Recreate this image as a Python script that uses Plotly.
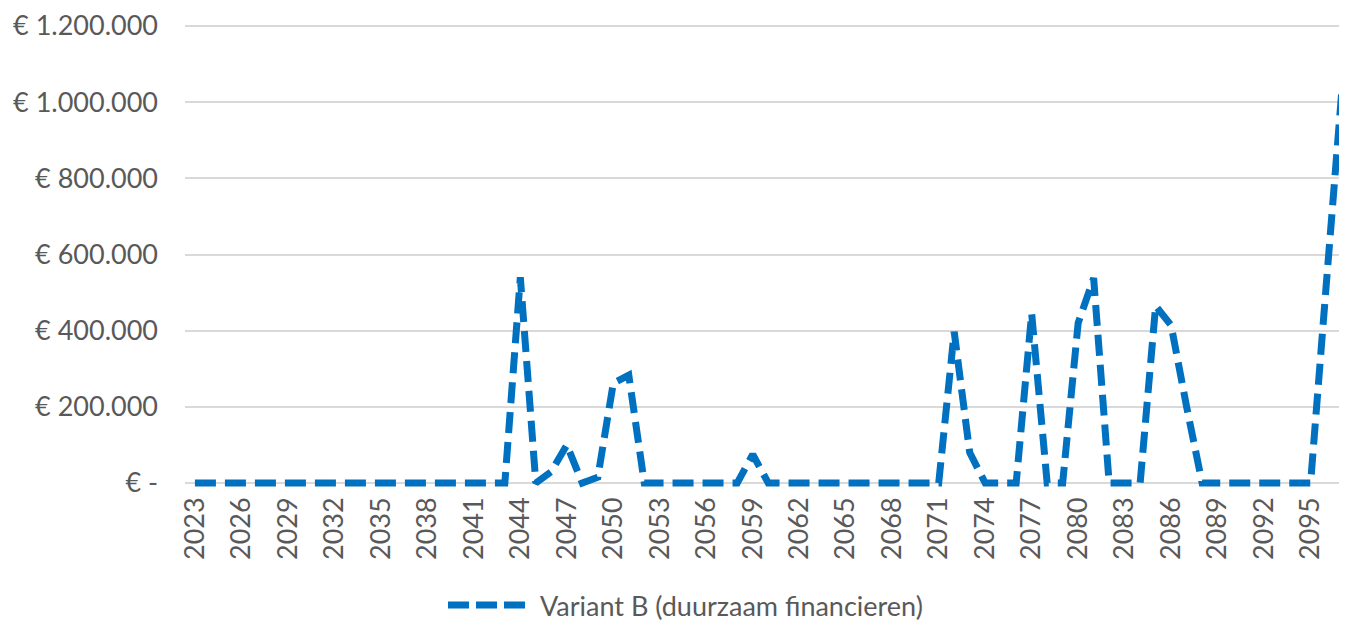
import plotly.graph_objects as go

years = list(range(2023, 2098))
values_by_year = {
    2044: 540000, 2046: 30000, 2047: 100000, 2049: 15000, 2050: 262000, 2051: 283000,
    2059: 75000, 2072: 397000, 2073: 80000, 2077: 445000, 2080: 420000, 2081: 538000,
    2085: 465000, 2086: 414000, 2087: 200000, 2096: 515000, 2097: 1022000,
}
values = [values_by_year.get(y, 0) for y in years]

x_tick_years = list(range(2023, 2096, 3))
y_tick_vals = [0, 200000, 400000, 600000, 800000, 1000000, 1200000]
y_tick_text = ["€ -", "€ 200.000", "€ 400.000", "€ 600.000", "€ 800.000", "€ 1.000.000", "€ 1.200.000"]
series_name = "Variant B (duurzaam financieren)"

BLUE = "#0070C0"
TXT = "#595959"
FONT = "Lato"
FS = 27

fig = go.Figure()
fig.add_trace(go.Scatter(
    x=years, y=values, mode="lines", name=series_name,
    line=dict(color=BLUE, width=7, dash="21px,9px"),
    showlegend=False, hoverinfo="x+y",
))

# page has an 8px body margin; figure coordinates = page coordinates - 8
OFF = 8
W, H = 1347 - OFF, 621 - OFF
ml, mr, mt = 185 - OFF, 0, 18 - OFF
plot_bottom = 491 - OFF
mb = H - plot_bottom
pw, ph = W - ml - mr, H - mt - mb

fig.update_layout(
    width=W, height=H,
    margin=dict(l=ml, r=mr, t=mt, b=mb, pad=0),
    paper_bgcolor="white", plot_bgcolor="white",
    font=dict(family=FONT, color=TXT, size=FS),
    xaxis=dict(
        range=[2022.36, 2097.35], tickmode="array", tickvals=x_tick_years,
        ticktext=[str(y) for y in x_tick_years], tickangle=-90,
        showgrid=False, zeroline=False, showline=False, ticks="",
        tickfont=dict(family=FONT, color=TXT, size=FS),
    ),
    yaxis=dict(
        range=[-21000, 1221000], tickmode="array", tickvals=y_tick_vals,
        ticktext=y_tick_text, showgrid=True, gridcolor="#D9D9D9", gridwidth=1.5,
        zeroline=False, showline=False, ticks="", ticklabelstandoff=26,
        tickfont=dict(family=FONT, color=TXT, size=FS),
    ),
)

def px_x(p):
    return (p - OFF - ml) / pw

def px_y(p):
    return (plot_bottom - (p - OFF)) / ph

ly = 605
fig.add_shape(type="line", xref="paper", yref="paper",
              x0=px_x(448), x1=px_x(530), y0=px_y(ly), y1=px_y(ly),
              line=dict(color=BLUE, width=7, dash="21px,7px"))
fig.add_annotation(xref="paper", yref="paper", x=px_x(538), y=px_y(ly),
                   xanchor="left", yanchor="middle", showarrow=False,
                   text=series_name, font=dict(family=FONT, color=TXT, size=FS))

fig.write_html("out.html")
